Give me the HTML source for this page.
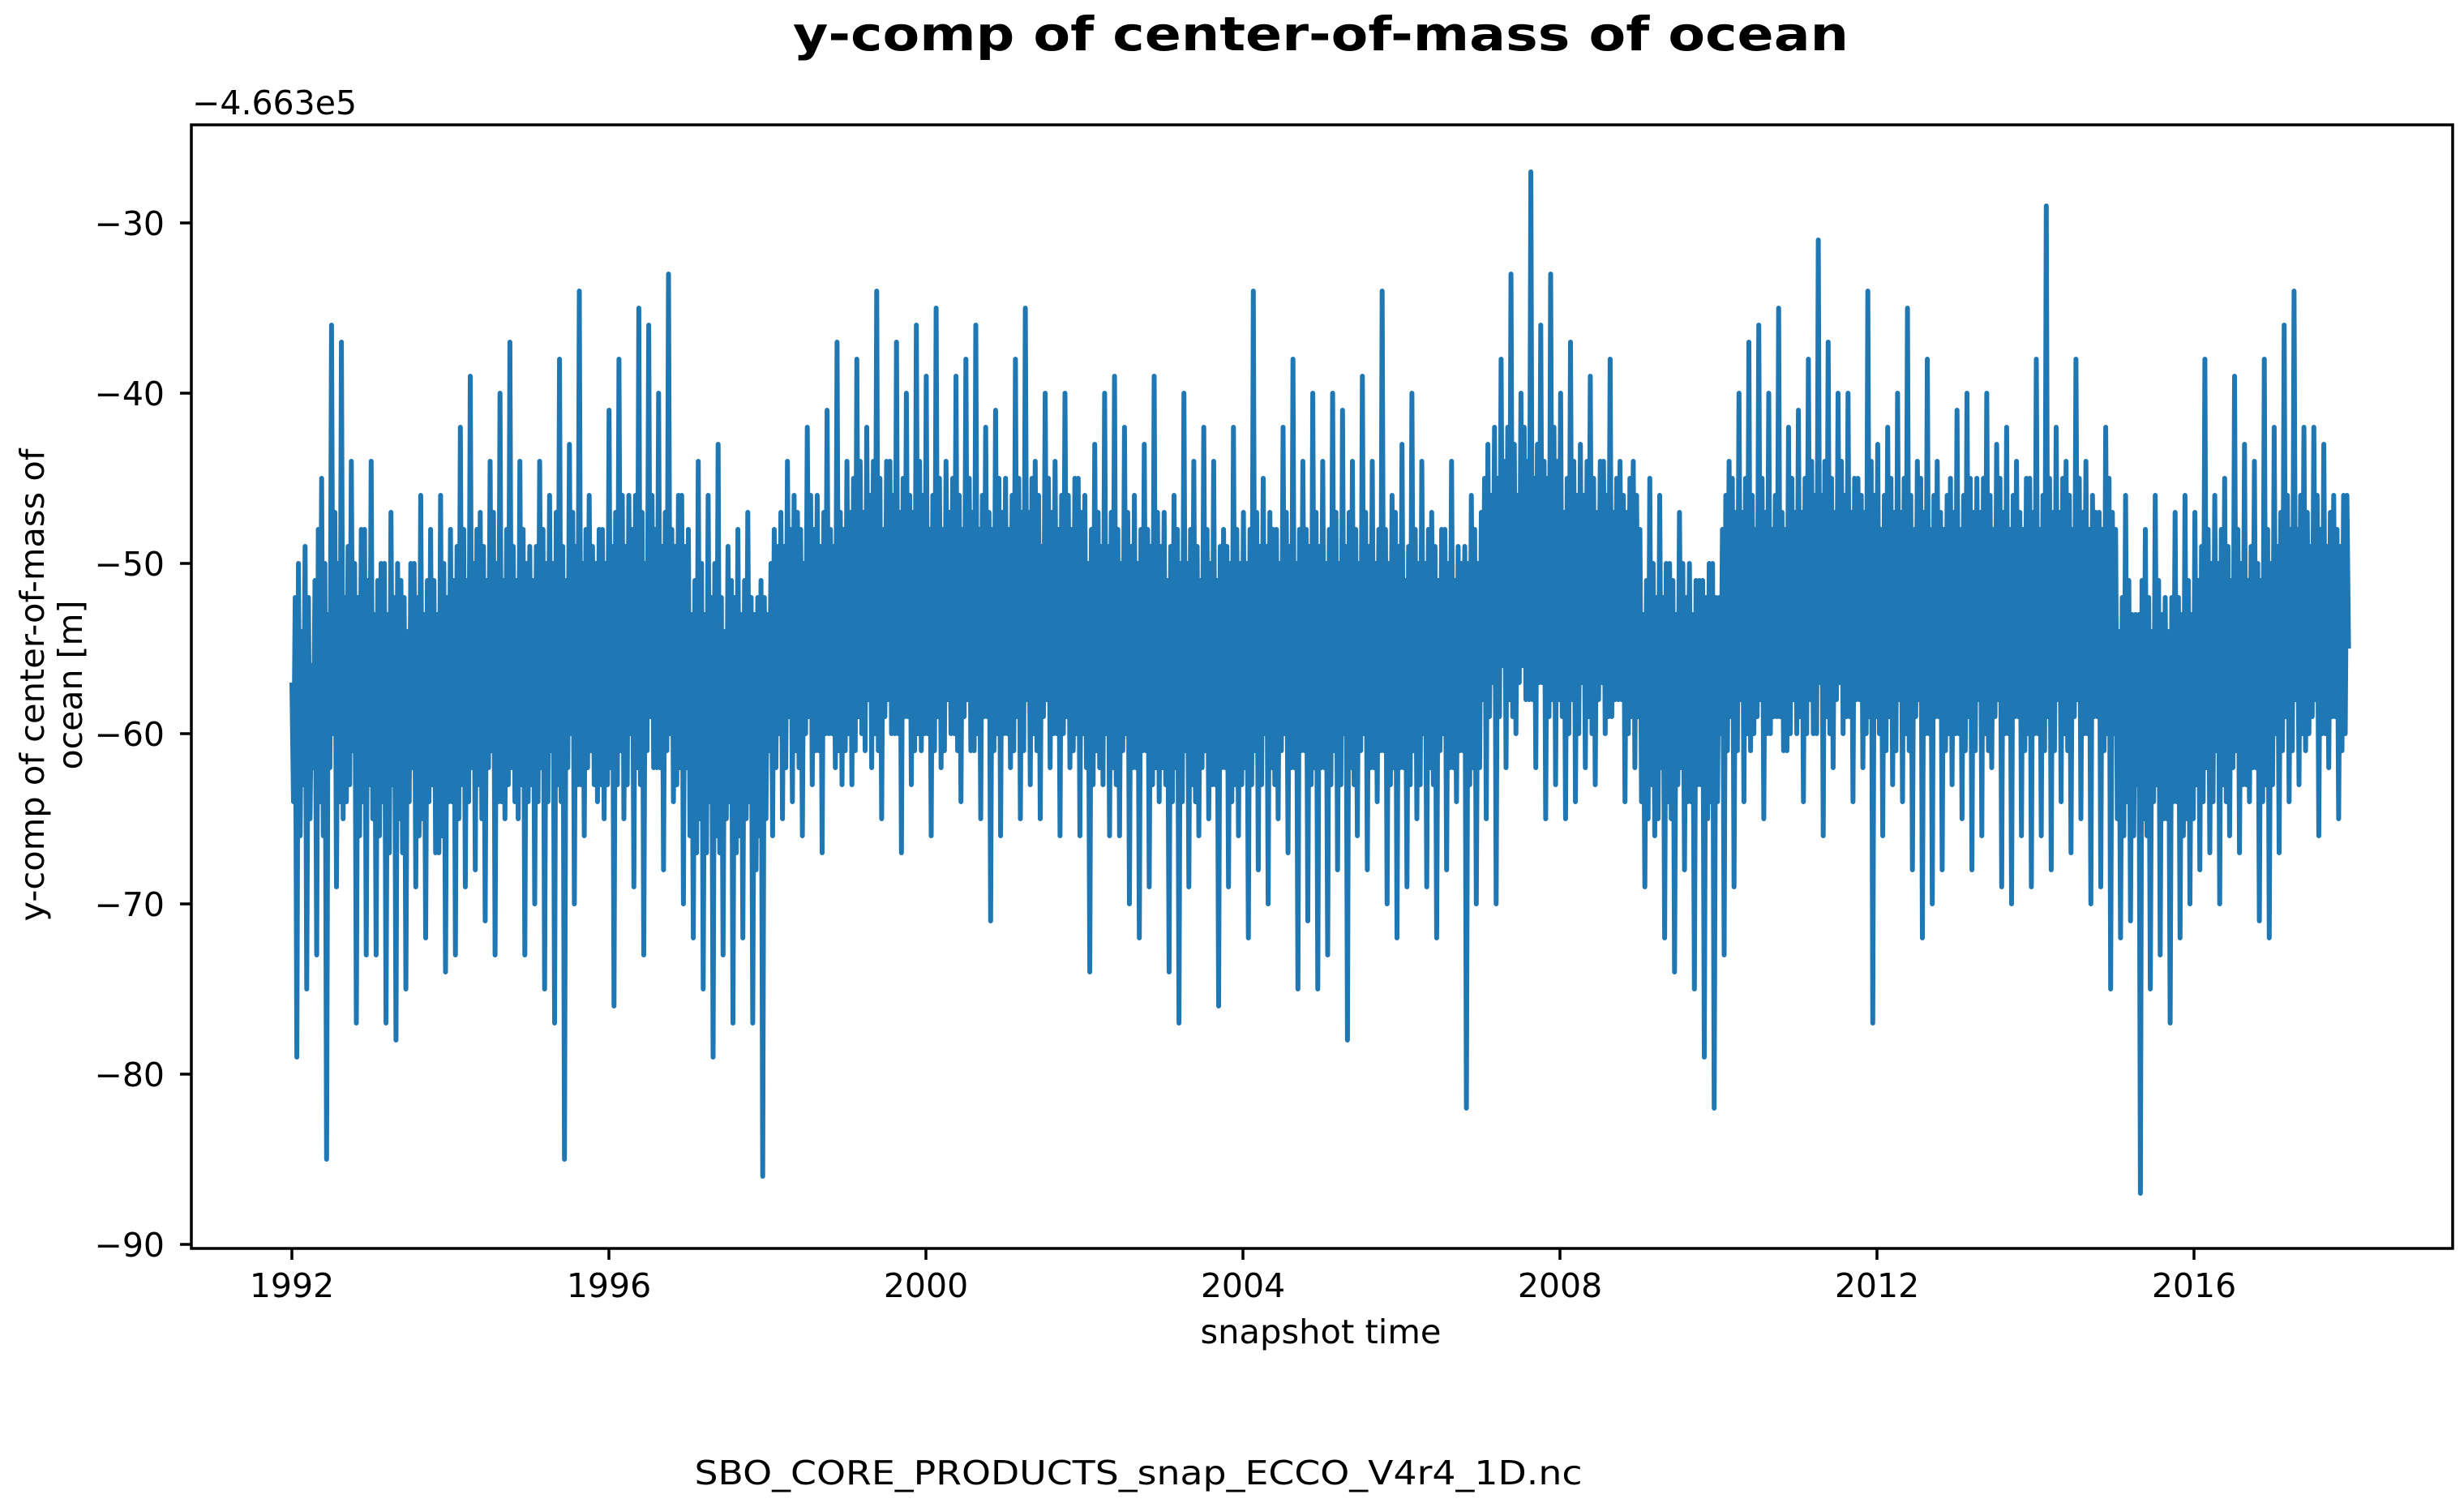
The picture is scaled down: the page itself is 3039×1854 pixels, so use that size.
<!DOCTYPE html>
<html><head><meta charset="utf-8"><style>
html,body{margin:0;padding:0;background:#fff;}
svg{display:block;font-family:"DejaVu Sans","Liberation Sans",sans-serif;}
</style></head><body>
<svg id="chart" width="3039" height="1854" viewBox="0 0 3039 1854" xmlns="http://www.w3.org/2000/svg">
<rect width="3039" height="1854" fill="#fff"/>
<text x="1629" y="62" font-size="58" font-weight="bold" text-anchor="middle" textLength="1302" lengthAdjust="spacingAndGlyphs">y-comp of center-of-mass of ocean</text>
<text x="237" y="141" font-size="41">−4.663e5</text>
<g id="plot"></g>
<g id="axes"></g>
<text x="1629" y="1657" font-size="41" text-anchor="middle" textLength="297" lengthAdjust="spacingAndGlyphs">snapshot time</text>
<g transform="translate(0,845) rotate(-90)">
<text x="0" y="54" font-size="41" text-anchor="middle" textLength="583" lengthAdjust="spacingAndGlyphs">y-comp of center-of-mass of</text>
<text x="0" y="101" font-size="41" text-anchor="middle">ocean [m]</text>
</g>
<text x="1404" y="1831" font-size="41" text-anchor="middle" textLength="1095" lengthAdjust="spacingAndGlyphs">SBO_CORE_PRODUCTS_snap_ECCO_V4r4_1D.nc</text>
</svg>
<script>
const xTicks = [1992,1996,2000,2004,2008,2012,2016];
const yTicks = [-30,-40,-50,-60,-70,-80,-90];
const startYear = 1992.0;
const endYear = 2017.95;
// extreme swings (alternating high / low)
const values = [
-57,-79,-54,-75,-56,-73,-45,-85,-36,-69,-37,-64,-44,-77,-48,-73,
-44,-73,-50,-77,-47,-78,-51,-75,-50,-69,-46,-72,-48,-67,-46,-74,
-48,-73,-42,-69,-39,-68,-47,-71,-44,-73,-40,-65,-37,-64,-44,-73,
-49,-70,-44,-75,-46,-77,-38,-85,-43,-70,-34,-66,-46,-63,-48,-65,
-41,-76,-38,-65,-46,-69,-35,-73,-36,-62,-40,-68,-33,-64,-46,-70,
-48,-72,-44,-75,-46,-79,-43,-73,-49,-77,-48,-72,-47,-77,-52,-86,
-53,-66,-49,-65,-44,-64,-47,-66,-42,-63,-46,-67,-41,-60,-37,-63,
-44,-63,-38,-60,-42,-62,-34,-65,-44,-60,-37,-67,-40,-63,-36,-61,
-39,-66,-35,-62,-44,-60,-39,-64,-38,-61,-36,-65,-42,-71,-41,-66,
-45,-62,-38,-65,-35,-63,-44,-65,-40,-62,-44,-66,-40,-62,-45,-66,
-46,-74,-43,-62,-40,-66,-39,-66,-42,-70,-46,-72,-43,-69,-39,-64,
-47,-74,-46,-77,-40,-69,-44,-66,-42,-65,-44,-76,-48,-69,-42,-66,
-47,-72,-34,-68,-45,-70,-48,-65,-42,-67,-38,-75,-44,-71,-40,-75,
-44,-73,-40,-68,-41,-78,-44,-66,-39,-68,-44,-64,-34,-70,-46,-72,
-43,-69,-40,-65,-44,-69,-47,-72,-48,-68,-44,-64,-50,-82,-46,-70,
-47,-65,-46,-70,-38,-62,-33,-60,-40,-58,-27,-62,-36,-65,-33,-63,
-40,-65,-37,-64,-43,-62,-39,-63,-44,-60,-38,-58,-44,-64,-45,-62,
-48,-69,-45,-66,-46,-72,-50,-74,-47,-68,-50,-75,-51,-79,-50,-82,
-52,-73,-44,-69,-40,-64,-37,-60,-36,-65,-40,-59,-35,-61,-42,-58,
-41,-64,-38,-60,-31,-66,-37,-62,-40,-60,-40,-64,-45,-62,-34,-77,
-43,-66,-42,-63,-40,-64,-35,-68,-44,-72,-38,-70,-44,-68,-46,-63,
-41,-65,-40,-68,-45,-66,-40,-62,-43,-69,-42,-70,-44,-66,-45,-69,
-38,-66,-29,-68,-42,-64,-44,-67,-38,-65,-44,-70,-47,-69,-42,-75,
-48,-72,-46,-71,-53,-87,-48,-75,-46,-73,-52,-77,-47,-72,-46,-70,
-47,-68,-38,-67,-46,-70,-45,-66,-39,-67,-43,-64,-44,-71,-38,-72,
-42,-67,-36,-64,-34,-63,-42,-60,-42,-66,-43,-62,-46,-65,-46,-55
];
// core-band wiggles between consecutive swings (two per gap)
const inner = [
-64,-52,-50,-66,-63,-49,-52,-65,-62,-51,-48,-64,-66,-50,-53,-62,-60,-47,-50,-64,-65,-52,-49,-63,-61,-50,-52,-66,-64,-48,-51,-63,
-65,-53,-51,-66,-64,-50,-53,-67,-63,-52,-50,-65,-67,-52,-54,-64,-62,-50,-52,-66,-65,-53,-51,-64,-63,-51,-53,-67,-66,-50,-52,-64,
-64,-51,-49,-65,-63,-48,-51,-64,-62,-50,-48,-63,-65,-49,-51,-62,-61,-47,-50,-64,-64,-51,-48,-63,-62,-49,-51,-65,-63,-48,-50,-64,
-63,-51,-49,-64,-62,-48,-50,-64,-61,-50,-47,-63,-64,-49,-51,-62,-60,-47,-49,-63,-63,-50,-48,-62,-61,-49,-50,-64,-63,-48,-50,-63,
-62,-49,-47,-63,-61,-46,-49,-63,-60,-48,-46,-62,-63,-47,-50,-61,-59,-46,-48,-62,-62,-49,-47,-61,-60,-48,-49,-63,-62,-46,-49,-62,
-66,-53,-51,-67,-65,-50,-53,-67,-64,-52,-50,-66,-67,-52,-54,-65,-64,-51,-52,-67,-66,-53,-51,-65,-64,-52,-53,-68,-66,-51,-52,-65,
-61,-50,-48,-62,-60,-47,-49,-62,-59,-48,-46,-61,-62,-48,-50,-60,-59,-46,-48,-61,-61,-49,-47,-60,-60,-48,-49,-62,-61,-47,-48,-61,
-60,-47,-45,-61,-59,-44,-47,-61,-58,-46,-44,-60,-61,-45,-48,-59,-58,-44,-46,-60,-60,-47,-45,-59,-59,-46,-47,-61,-60,-44,-46,-60,
-60,-48,-46,-61,-59,-45,-48,-61,-58,-47,-45,-60,-61,-46,-48,-59,-58,-45,-47,-61,-60,-48,-46,-59,-59,-47,-48,-61,-60,-45,-47,-60,
-60,-48,-46,-61,-59,-45,-47,-61,-58,-47,-45,-60,-61,-46,-49,-59,-58,-45,-47,-60,-60,-48,-46,-60,-59,-46,-48,-61,-60,-45,-47,-60,
-62,-50,-48,-63,-61,-47,-49,-63,-60,-49,-47,-62,-63,-48,-50,-61,-60,-47,-49,-62,-62,-50,-48,-61,-61,-48,-49,-63,-62,-47,-49,-62,
-63,-51,-49,-64,-62,-48,-50,-64,-61,-50,-48,-63,-64,-49,-51,-62,-61,-48,-50,-63,-63,-51,-49,-62,-62,-49,-50,-64,-63,-48,-50,-63,
-62,-50,-48,-63,-61,-47,-49,-63,-60,-49,-47,-62,-63,-48,-50,-61,-60,-47,-49,-62,-62,-50,-48,-61,-61,-48,-49,-63,-62,-47,-49,-62,
-62,-50,-48,-63,-61,-47,-50,-63,-60,-49,-47,-62,-63,-48,-50,-61,-60,-47,-49,-62,-62,-50,-48,-61,-61,-48,-50,-63,-62,-47,-49,-62,
-62,-51,-49,-63,-61,-48,-50,-63,-60,-50,-48,-62,-63,-49,-51,-61,-60,-48,-50,-62,-62,-51,-49,-61,-61,-49,-50,-63,-62,-48,-50,-62,
-58,-45,-43,-59,-57,-42,-45,-59,-56,-44,-42,-58,-59,-43,-46,-57,-56,-42,-44,-58,-58,-45,-43,-57,-57,-44,-45,-59,-58,-42,-44,-58,
-59,-47,-45,-60,-58,-44,-46,-60,-57,-46,-44,-59,-60,-45,-47,-58,-57,-44,-46,-59,-59,-47,-45,-58,-58,-46,-47,-60,-59,-44,-46,-59,
-64,-53,-51,-65,-63,-50,-52,-65,-62,-52,-50,-64,-65,-51,-53,-63,-62,-50,-52,-64,-64,-53,-51,-63,-63,-51,-52,-65,-64,-50,-52,-64,
-60,-48,-46,-61,-59,-45,-47,-61,-58,-47,-45,-60,-61,-46,-48,-59,-58,-45,-47,-60,-60,-48,-46,-59,-59,-47,-48,-61,-60,-45,-47,-60,
-59,-47,-45,-60,-58,-44,-46,-60,-57,-46,-44,-59,-60,-45,-47,-58,-57,-44,-46,-59,-59,-47,-45,-58,-58,-46,-47,-60,-59,-44,-46,-59,
-60,-48,-46,-61,-59,-45,-47,-61,-58,-47,-45,-60,-61,-46,-48,-59,-58,-45,-47,-60,-60,-48,-46,-59,-59,-47,-48,-61,-60,-45,-47,-60,
-60,-48,-46,-61,-59,-45,-47,-61,-58,-47,-45,-60,-61,-46,-48,-59,-58,-45,-47,-60,-60,-48,-46,-59,-59,-47,-48,-61,-60,-45,-47,-60,
-60,-48,-46,-61,-59,-45,-47,-61,-58,-47,-45,-60,-61,-46,-48,-59,-58,-45,-47,-60,-60,-48,-46,-59,-59,-47,-48,-61,-60,-45,-47,-60,
-65,-54,-52,-66,-64,-51,-53,-66,-63,-53,-51,-65,-66,-52,-54,-64,-63,-51,-53,-65,-65,-54,-52,-64,-64,-52,-53,-66,-65,-51,-53,-65,
-63,-51,-49,-64,-62,-48,-50,-64,-61,-50,-48,-63,-64,-49,-51,-62,-61,-48,-50,-63,-63,-51,-49,-62,-62,-50,-51,-64,-63,-48,-50,-63,
-60,-49,-47,-61,-59,-46,-48,-61,-58,-48,-46,-60,-61,-47,-49,-59,-58,-46,-48,-60,-60,-49,-47,-59,-59,-48,-49,-61,-60,-46,-48,-60
];
const NS="http://www.w3.org/2000/svg";
const L=236,R=3025,T=154,B=1540;
function xScale(yr){return 360+(yr-1992)*97.75;}
function yScale(v){return 275+(-30-v)*21.0;}
const plot=document.getElementById('plot');
const axes=document.getElementById('axes');
const pts=[];
const n=values.length;
for(let i=0;i<n;i++){
  pts.push(values[i]);
  if(i<n-1){pts.push(inner[2*i]);pts.push(inner[2*i+1]);}
}
let d='';
pts.forEach((v,i)=>{
  const yr=startYear+(endYear-startYear)*i/(pts.length-1);
  d+=(i?'L':'M')+xScale(yr).toFixed(1)+','+yScale(v).toFixed(1);
});
const line=document.createElementNS(NS,'path');
line.setAttribute('d',d);
line.setAttribute('fill','none');
line.setAttribute('stroke','#1f77b4');
line.setAttribute('stroke-width','6');
line.setAttribute('stroke-linejoin','round');


plot.appendChild(line);
const frame=document.createElementNS(NS,'rect');
frame.setAttribute('x',L);frame.setAttribute('y',T);
frame.setAttribute('width',R-L);frame.setAttribute('height',B-T);
frame.setAttribute('fill','none');frame.setAttribute('stroke','#000');frame.setAttribute('stroke-width','3.5');


axes.appendChild(frame);
xTicks.forEach(t=>{
  const x=xScale(t);
  const tk=document.createElementNS(NS,'line');
  tk.setAttribute('x1',x);tk.setAttribute('x2',x);tk.setAttribute('y1',B);tk.setAttribute('y2',B+14);
  tk.setAttribute('stroke','#000');tk.setAttribute('stroke-width','3.5');
  
  
  axes.appendChild(tk);
  const lb=document.createElementNS(NS,'text');
  lb.setAttribute('x',x);lb.setAttribute('y',1600);lb.setAttribute('font-size','41');lb.setAttribute('text-anchor','middle');
  lb.textContent=t;
  
  
  axes.appendChild(lb);
});
yTicks.forEach(t=>{
  const y=yScale(t);
  const tk=document.createElementNS(NS,'line');
  tk.setAttribute('x1',L-14);tk.setAttribute('x2',L);tk.setAttribute('y1',y);tk.setAttribute('y2',y);
  tk.setAttribute('stroke','#000');tk.setAttribute('stroke-width','3.5');
  
  
  axes.appendChild(tk);
  const lb=document.createElementNS(NS,'text');
  lb.setAttribute('x',203);lb.setAttribute('y',y+15);lb.setAttribute('font-size','41');lb.setAttribute('text-anchor','end');
  lb.textContent='−'+Math.abs(t);
  
  
  axes.appendChild(lb);
});
</script>
</body></html>
